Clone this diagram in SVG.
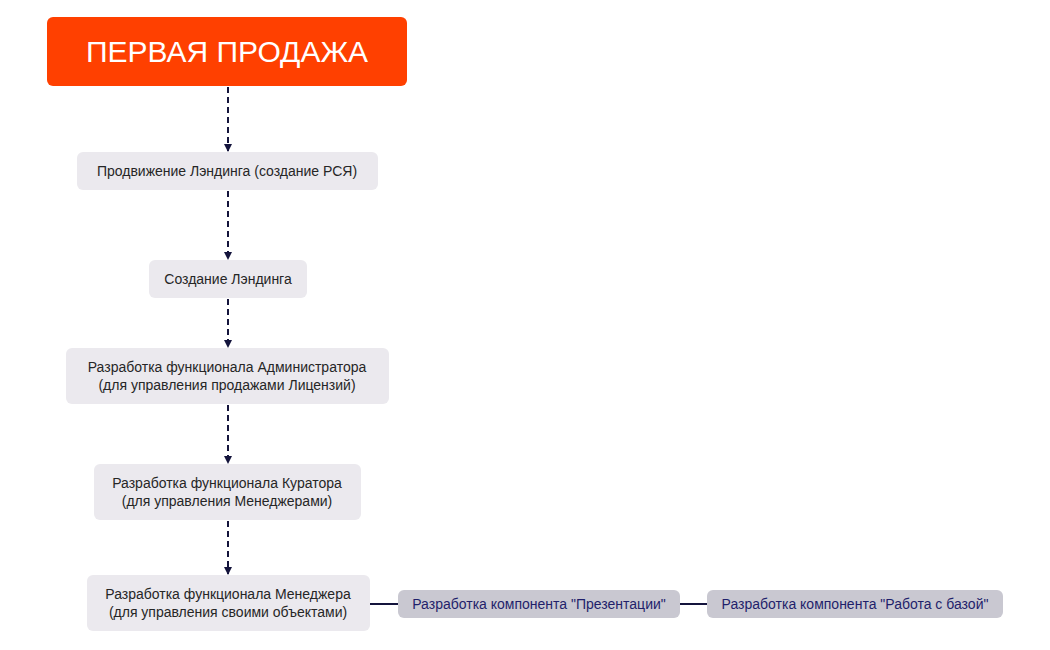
<svg xmlns="http://www.w3.org/2000/svg" width="1050" height="650" viewBox="0 0 1050 650">
<style>
.n{fill:#ebe9ee}
.s{fill:#c9c8d1}
.t{font-family:"Liberation Sans",Arial,sans-serif;font-size:14px;fill:#262626;text-anchor:middle}
.st{font-family:"Liberation Sans",Arial,sans-serif;font-size:14px;fill:#1f1f6b;text-anchor:middle}
.d{stroke:#14143c;stroke-width:2;stroke-dasharray:6,4;fill:none}
.l{stroke:#14143c;stroke-width:2;fill:none}
</style>
<defs><marker id="a" markerWidth="8" markerHeight="8" refX="7" refY="4" orient="auto" markerUnits="userSpaceOnUse"><path d="M0,0 L8,4 L0,8 z" fill="#14143c"/></marker></defs>
<rect width="1050" height="650" fill="#fff"/>
<g id="connectors">
<path class="d" d="M228,87 V151" marker-end="url(#a)"/>
<path class="d" d="M228,191 V259" marker-end="url(#a)"/>
<path class="d" d="M228,299 V347" marker-end="url(#a)"/>
<path class="d" d="M228,405 V463" marker-end="url(#a)"/>
<path class="d" d="M228,521 V574" marker-end="url(#a)"/>
<path class="l" d="M370,604 H398"/>
<path class="l" d="M680,604 H707"/>
</g>
<g id="n0"><rect x="47" y="17" width="360" height="69" rx="6" fill="#ff4000"/><text x="227" y="62" font-family="Liberation Sans,Arial,sans-serif" font-size="30" fill="#fff" text-anchor="middle">ПЕРВАЯ ПРОДАЖА</text></g>
<g id="n1"><rect class="n" x="77" y="152" width="301" height="38" rx="6"/><text class="t" x="227" y="176">Продвижение Лэндинга (создание РСЯ)</text></g>
<g id="n2"><rect class="n" x="149" y="260" width="158" height="38" rx="6"/><text class="t" x="228" y="284">Создание Лэндинга</text></g>
<g id="n3"><rect class="n" x="66" y="348" width="323" height="56" rx="6"/><text class="t" x="227" y="372">Разработка функционала Администратора</text><text class="t" x="227" y="390">(для управления продажами Лицензий)</text></g>
<g id="n4"><rect class="n" x="94" y="464" width="267" height="56" rx="6"/><text class="t" x="227" y="488">Разработка функционала Куратора</text><text class="t" x="227" y="506">(для управления Менеджерами)</text></g>
<g id="n5"><rect class="n" x="87" y="575" width="283" height="56" rx="6"/><text class="t" x="228" y="599">Разработка функционала Менеджера</text><text class="t" x="228" y="617">(для управления своими объектами)</text></g>
<g id="n6"><rect class="s" x="398" y="590" width="282" height="28" rx="6"/><text class="st" x="539" y="609">Разработка компонента "Презентации"</text></g>
<g id="n7"><rect class="s" x="707" y="590" width="296" height="28" rx="6"/><text class="st" x="855" y="609">Разработка компонента "Работа с базой"</text></g>
</svg>
